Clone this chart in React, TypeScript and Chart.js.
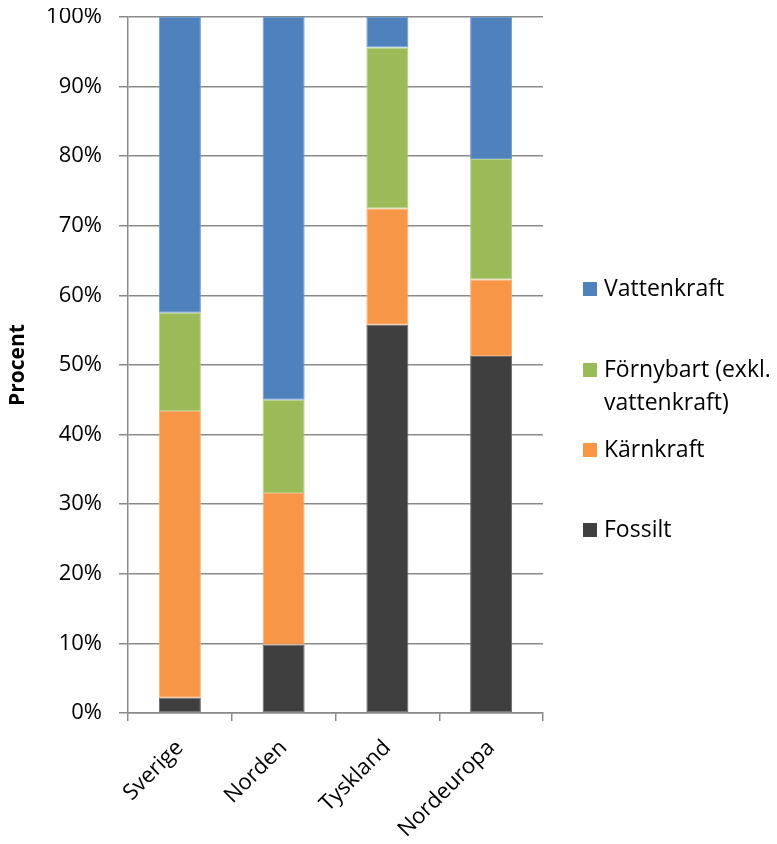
import React, { useEffect, useRef } from "react";
import { Chart, registerables } from "chart.js";

Chart.register(...registerables);

const categories = ["Sverige", "Norden", "Tyskland", "Nordeuropa"];
const fossilt = [2.2, 9.8, 55.8, 51.3];
const karnkraft = [41.2, 21.8, 16.7, 11.0];
const fornybart = [14.1, 13.4, 23.1, 17.3];
const vattenkraft = [42.5, 55.0, 4.4, 20.4];
const seriesNames = ["Fossilt", "Kärnkraft", "Förnybart (exkl. vattenkraft)", "Vattenkraft"];
const legendLines = [["Vattenkraft"], ["Förnybart (exkl.", "vattenkraft)"], ["Kärnkraft"], ["Fossilt"]];
const yAxisTitle = "Procent";

const COLORS = ["#3f3f3f", "#f79646", "#9bbb59", "#4f81bd"];
const BORDERS = ["#6a6a6a", "#f9ae74", "#b3cd84", "#6f98cc"];
const LEGEND_COLORS = ["#4f81bd", "#9bbb59", "#f79646", "#3f3f3f"];

const W = 761;
const H = 828;

const legendPlugin = {
  id: "customLegend",
  afterDraw(chart: any) {
    const ctx = chart.ctx;
    const centers = [281, 362, 442, 522];
    ctx.save();
    ctx.font = "23px 'Open Sans'";
    ctx.textBaseline = "middle";
    ctx.textAlign = "left";
    legendLines.forEach((lines, i) => {
      const cy = centers[i];
      ctx.fillStyle = LEGEND_COLORS[i];
      ctx.fillRect(575, cy - 7, 14, 14);
      ctx.fillStyle = "#000";
      lines.forEach((t, j) => ctx.fillText(t, 596, cy + j * 33));
    });
    ctx.restore();
  },
};

export default function App() {
  const ref = useRef<HTMLCanvasElement | null>(null);
  useEffect(() => {
    if (!ref.current) return;
    const data = [fossilt, karnkraft, fornybart, vattenkraft];
    const chart = new Chart(ref.current, {
      type: "bar",
      data: {
        labels: categories,
        datasets: data.map((d, i) => ({
          label: seriesNames[i],
          data: d,
          backgroundColor: COLORS[i],
          borderColor: BORDERS[i],
          borderWidth: 1,
          borderSkipped: false,
          categoryPercentage: 1,
          barPercentage: 0.405,
        })),
      },
      options: {
        responsive: false,
        animation: false,
        layout: { padding: { left: 0, right: 226, top: 9, bottom: 0 } },
        plugins: { legend: { display: false }, tooltip: { enabled: false } },
        scales: {
          x: {
            stacked: true,
            grid: {
              display: true,
              drawOnChartArea: false,
              drawTicks: true,
              tickLength: 8,
              color: "#8a8a8a",
              lineWidth: 1.5,
              offset: true,
            },
            border: { display: true, color: "#8a8a8a", width: 1.5 },
            ticks: {
              minRotation: 45,
              maxRotation: 45,
              padding: 14,
              color: "#000",
              font: { family: "'Open Sans'", size: 22 },
            },
            afterFit(scale: any) {
              scale.height = 123;
              scale.paddingLeft = 0;
              scale.paddingRight = 0;
            },
          },
          y: {
            stacked: true,
            min: 0,
            max: 100,
            ticks: {
              stepSize: 10,
              padding: 17,
              color: "#000",
              font: { family: "'Open Sans'", size: 22 },
              callback: (v: any) => v + "%",
            },
            grid: {
              color: "#8a8a8a",
              lineWidth: 1.5,
              tickLength: 9,
              drawTicks: true,
            },
            border: { display: true, color: "#8a8a8a", width: 1.5 },
            title: {
              display: true,
              text: yAxisTitle,
              color: "#000",
              padding: { top: 0, bottom: 0 },
              font: { family: "'Open Sans'", size: 21, weight: "bold", lineHeight: 1 },
            },
            afterFit(scale: any) {
              scale.width = 120;
              scale.paddingTop = 0;
              scale.paddingBottom = 0;
            },
          },
        },
      },
      plugins: [legendPlugin],
    } as any);
    return () => chart.destroy();
  }, []);
  return (
    <div style={{ position: "relative", width: W, height: H }}>
      <canvas ref={ref} width={W} height={H} style={{ display: "block" }} />
    </div>
  );
}
